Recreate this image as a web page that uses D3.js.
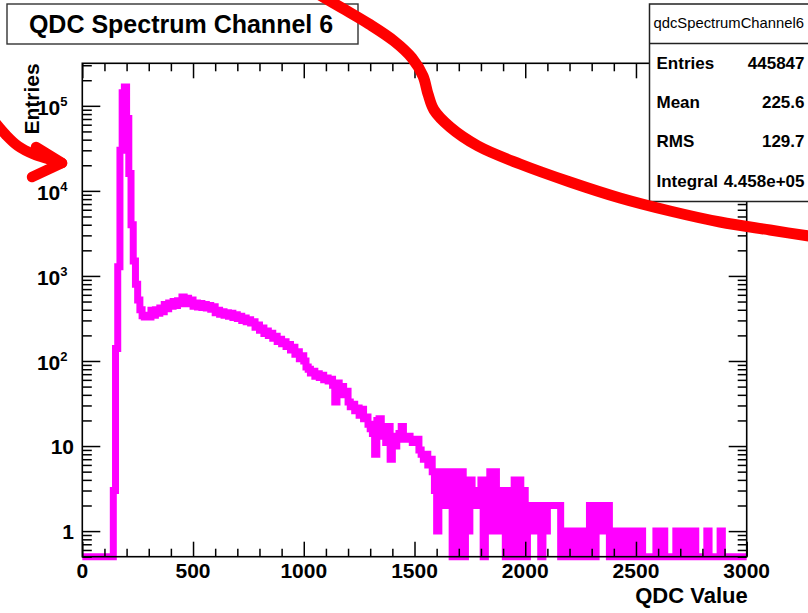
<!DOCTYPE html>
<html><head><meta charset="utf-8">
<script src="https://cdn.jsdelivr.net/npm/d3@7"></script>
<style>body{margin:0;background:#fff} text{font-family:"Liberation Sans",Arial,Helvetica,sans-serif}</style>
</head><body><svg id="c" width="808" height="613"></svg>
<script>
// ---------------- data ----------------
const chartTitle = "QDC Spectrum Channel 6";
const xTitle = "QDC Value";
const yTitle = "Entries";
const binLow = 0;          // first bin low edge (QDC units)
const binWidth = 10;       // QDC units per bin
// counts per bin, 0..2990 (10 bins per row)
const counts = [
  0,0,0,0,0,0,0,0,0,0,
  0,0,0,0,3,140,1280,30000,142000,167000,
  71000,16000,4000,1500,800,520,400,340,330,345,
  330,395,345,400,365,420,380,460,410,480,
  440,500,450,510,470,565,500,545,470,520,
  440,480,430,475,425,460,420,450,405,435,
  370,395,355,380,345,370,335,365,325,350,
  315,335,300,320,290,305,280,290,250,265,
  230,245,210,225,200,212,185,195,170,180,
  160,168,148,156,135,145,120,128,106,115,
  100,85,80,72,76,66,71,64,68,60,
  63,58,61,52,33,55,47,50,40,44,
  33,29,31,26,28,23,27,21,22,18,
  16,14,8,20,21,13,15,11,17,7,
  13,10,12,14,17,13,12,13,12,11,
  12,12,9,8,7,8,6,7,5,3,
  1,5,4,2,4,5,2,0,5,0,
  3,5,0,4,1,4,3,2,3,2,
  4,0,4,1,5,2,5,1,3,2,
  3,0,3,0,3,4,0,4,1,3,
  0,2,2,2,1,2,2,0,2,1,
  2,2,2,2,2,2,0,1,0,1,
  1,0,1,0,1,0,1,0,1,2,
  2,0,1,1,2,2,1,2,0,1,
  0,1,0,1,1,0,1,0,1,0,
  1,0,1,0,0,0,0,0,0,1,
  0,1,1,0,0,0,0,0,1,0,
  1,1,0,1,0,1,1,0,0,0,
  0,0,1,0,0,0,0,0,1,0,
  0,0,0,0,0,0,0,0,0,0
];
const xDomain = [0, 3000];
const yDomain = [0.5, 316228];
const xLabelTicks = [0, 500, 1000, 1500, 2000, 2500, 3000];
const yDecadeExps = [0, 1, 2, 3, 4, 5];
const statsName = "qdcSpectrumChannel6";
const statsLabels = ["Entries", "Mean", "RMS", "Integral"];
const statsValues = ["445847", "225.6", "129.7", "4.458e+05"];

// ---------------- layout ----------------
const svg = d3.select("#c");
const L = 82.3, R = 746.7, T = 63.3, B = 556.7;
const x = d3.scaleLinear().domain(xDomain).range([L, R]);
const y = d3.scaleLog().domain(yDomain).range([B, T]);

// histogram (step line)
const pts = counts.map((c, i) => [binLow + i * binWidth, c]);
pts.push([binLow + counts.length * binWidth, counts[counts.length - 1]]);
const line = d3.line()
  .x(d => x(d[0]))
  .y(d => y(Math.max(d[1], yDomain[0])))
  .curve(d3.curveStepAfter);
svg.append("path").attr("d", line(pts))
  .attr("fill", "none").attr("stroke", "#ff00ff")
  .attr("stroke-width", 7).attr("stroke-linejoin", "miter").attr("stroke-linecap", "butt");

// ticks
const minorX = d3.range(0, 3001, 100).filter(v => v % 500 !== 0);
const majorX = d3.range(0, 3001, 500);
const minorY = [], majorY = [];
for (let e = -1; e <= 5; e++) {
  for (let k = 1; k <= 9; k++) {
    const v = k * Math.pow(10, e);
    if (v < yDomain[0] || v > yDomain[1]) continue;
    if (k === 1) majorY.push(v); else minorY.push(v);
  }
}
function tickGroup(axis, tr) {
  const g = svg.append("g").attr("transform", tr).call(axis);
  g.select(".domain").remove();
  g.selectAll("text").remove();
  g.selectAll("line").attr("stroke", "#000").attr("stroke-width", 1.5);
  return g;
}
tickGroup(d3.axisBottom(x).tickValues(minorX).tickSize(-8), `translate(0,${B})`);
tickGroup(d3.axisBottom(x).tickValues(majorX).tickSize(-15), `translate(0,${B})`);
tickGroup(d3.axisTop(x).tickValues(minorX).tickSize(-8), `translate(0,${T})`);
tickGroup(d3.axisTop(x).tickValues(majorX).tickSize(-15), `translate(0,${T})`);
tickGroup(d3.axisLeft(y).tickValues(minorY).tickSize(-9.5), `translate(${L},0)`);
tickGroup(d3.axisLeft(y).tickValues(majorY).tickSize(-18), `translate(${L},0)`);
tickGroup(d3.axisRight(y).tickValues(minorY).tickSize(-9), `translate(${R},0)`);
tickGroup(d3.axisRight(y).tickValues(majorY).tickSize(-18), `translate(${R},0)`);

// frame
svg.append("rect").attr("x", L).attr("y", T).attr("width", R - L).attr("height", B - T)
  .attr("fill", "none").attr("stroke", "#000").attr("stroke-width", 1.6);

// x labels
svg.append("g").selectAll("text").data(xLabelTicks).join("text")
  .attr("x", d => x(d)).attr("y", 578).attr("text-anchor", "middle")
  .attr("font-size", 21).attr("font-weight", "bold").text(d => d);
svg.append("text").attr("x", R + 1).attr("y", 603).attr("text-anchor", "end")
  .attr("font-size", 22).attr("font-weight", "bold").text(xTitle);

// y labels
yDecadeExps.forEach(e => {
  const yy = y(Math.pow(10, e));
  const t = svg.append("text").attr("text-anchor", "end").attr("y", yy)
    .attr("font-size", 21).attr("font-weight", "bold");
  if (e === 0) { t.attr("x", 74).attr("dy", 7.5).text("1"); }
  else if (e === 1) { t.attr("x", 74).attr("dy", 7.5).text("10"); }
  else {
    t.attr("x", 67.5);
    t.append("tspan").attr("dy", 9).text("10");
    t.append("tspan").attr("dy", -8.5).attr("font-size", 13).text(e);
  }
});
svg.append("text").attr("transform", `translate(38.5,${T}) rotate(-90)`)
  .attr("text-anchor", "end").attr("font-size", 21).attr("font-weight", "bold").text(yTitle);

// title box
svg.append("rect").attr("x", 7).attr("y", 4).attr("width", 351).attr("height", 40)
  .attr("fill", "#fff").attr("stroke", "#333").attr("stroke-width", 1.4);
svg.append("text").attr("x", 181).attr("y", 32.5).attr("text-anchor", "middle")
  .attr("font-size", 25).attr("font-weight", "bold").text(chartTitle);

// stats box
svg.append("rect").attr("x", 649.5).attr("y", 4).attr("width", 170).attr("height", 197.5)
  .attr("fill", "#fff").attr("stroke", "#222").attr("stroke-width", 1.5);
svg.append("line").attr("x1", 649.5).attr("x2", 808).attr("y1", 43.5).attr("y2", 43.5)
  .attr("stroke", "#222").attr("stroke-width", 1.5);
svg.append("text").attr("x", 653.5).attr("y", 28).attr("font-size", 14.8).text(statsName);
statsLabels.forEach((lab, i) => {
  const yy = 68.5 + i * 39.4;
  svg.append("text").attr("x", 656.5).attr("y", yy).attr("font-size", 17).attr("font-weight", "bold").text(lab);
  svg.append("text").attr("x", 804.5).attr("y", yy).attr("text-anchor", "end")
    .attr("font-size", 17).attr("font-weight", "bold").text(statsValues[i]);
});

// red hand-drawn annotations
const curve = d3.line().curve(d3.curveCatmullRom.alpha(0.5));
const bigStroke = [[318,-6],[342,8],[369,24],[394,41],[412,58],[423,76],[428,94],[434,110],[450,127],[478,146],[520,164],[570,182],[620,198],[670,211],[720,222],[770,230],[815,237]];
svg.append("path").attr("d", curve(bigStroke)).attr("fill", "none")
  .attr("stroke", "#ff0000").attr("stroke-width", 11).attr("stroke-linecap", "round");
const arrowShaft = [[-6,121],[6,135],[18,146],[33,154],[48,159],[62,163]];
const arrowArms = [[[36,147],[62,163],[32,177]]];
const ann = svg.append("g").attr("fill", "none").attr("stroke", "#ff0000")
  .attr("stroke-width", 10.5).attr("stroke-linecap", "round").attr("stroke-linejoin", "round");
ann.append("path").attr("d", curve(arrowShaft));
arrowArms.forEach(a => ann.append("path").attr("d", d3.line()(a)));
</script></body></html>
